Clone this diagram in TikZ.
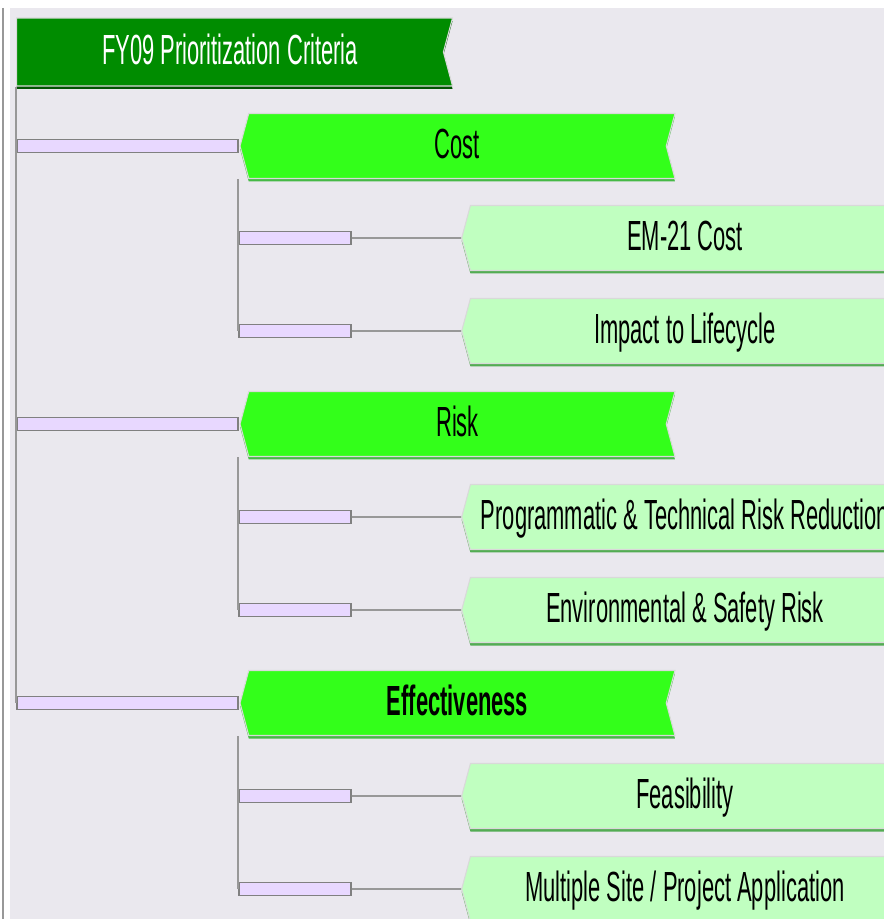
\documentclass[tikz,border=0pt]{standalone}
\usepackage{fontspec}
\newfontfamily\narrowsans[FakeStretch=0.52]{Liberation Sans}
\usetikzlibrary{shapes.symbols, shadows}
\definecolor{canvasgrey}{HTML}{EAE8EE}
\definecolor{rootgreen}{HTML}{008C00}
\definecolor{critgreen}{HTML}{33FF1A}
\definecolor{subgreen}{HTML}{C0FFC0}
\definecolor{barlilac}{HTML}{E8D8FF}
\definecolor{linkgrey}{HTML}{989898}

\begin{document}
\begin{tikzpicture}[x=0.02cm, y=-0.02cm,
		every node/.style={font=\narrowsans\fontsize{24}{28}\selectfont, inner sep=0pt},
		tab/.style={signal, signal pointer angle=150, text height=0.55cm, text depth=0.05cm, draw=white!70!gray, line width=0.6pt},
		rootbox/.style={tab, signal from=east, signal to=nowhere, fill=rootgreen, text=white, minimum width=8.72cm, minimum height=1.36cm, drop shadow={shadow xshift=0pt, shadow yshift=-0.06cm, shadow scale=1, opacity=1, fill=rootgreen!60!black}},
		critbox/.style={tab, signal from=east, signal to=west, fill=critgreen, minimum width=8.7cm, minimum height=1.3cm, drop shadow={shadow xshift=0pt, shadow yshift=-0.06cm, shadow scale=1, opacity=1, fill=green!45!gray}},
		subbox/.style={tab, signal from=nowhere, signal to=west, fill=subgreen, minimum width=8.76cm, minimum height=1.3cm, drop shadow={shadow xshift=0pt, shadow yshift=-0.06cm, shadow scale=1, opacity=1, fill=green!35!gray}},
		barbox/.style={rectangle, draw=gray, line width=0.9pt, fill=barlilac, minimum height=0.26cm},
		topbar/.style={barbox, minimum width=4.42cm},
		subbar/.style={barbox, minimum width=2.24cm},
		link/.style={linkgrey, line width=0.9pt}]
		\useasboundingbox (0,0) rectangle (884,919);
		\clip (0,0) rectangle (884,919);
		\fill[canvasgrey] (10,8) rectangle (884,919);
		\draw[linkgrey, line width=1pt] (3,8) -- (3,919);

		\node[rootbox] (crit) at (230,52) {FY09 Prioritization Criteria};

		\node[topbar] (bcost) at (127.5,146) {};
		\node[topbar] (brisk) at (127.5,424) {};
		\node[topbar] (beff) at (127.5,703) {};
		\draw[link] (beff.west |- crit.south) -- (beff.west);

		\node[critbox] (cost) at (457.5,146) {Cost};
		\node[critbox] (risk) at (457.5,424) {Risk};
		\node[critbox] (eff) at (457.5,703) {\bfseries Effectiveness};

		\node[subbar] (bemcost) at (295,238) {};
		\node[subbar] (bimpact) at (295,331) {};
		\node[subbar] (bprogrisk) at (295,517) {};
		\node[subbar] (benvrisk) at (295,610) {};
		\node[subbar] (bfeas) at (295,796) {};
		\node[subbar] (bmulti) at (295,889) {};
		\draw[link] (bemcost.west |- cost.south) -- (bimpact.west);
		\draw[link] (bprogrisk.west |- risk.south) -- (benvrisk.west);
		\draw[link] (bfeas.west |- eff.south) -- (bmulti.west);

		\node[subbox] (emcost) at (685,238) {EM-21 Cost};
		\node[subbox] (impact) at (685,331) {Impact to Lifecycle};
		\node[subbox] (progrisk) at (685,517) {Programmatic \& Technical Risk Reduction};
		\node[subbox] (envrisk) at (685,610) {Environmental \& Safety Risk};
		\node[subbox] (feas) at (685,796) {Feasibility};
		\node[subbox] (multi) at (685,889) {Multiple Site / Project Application};

		\draw[link] (bemcost) -- (emcost);
		\draw[link] (bimpact) -- (impact);
		\draw[link] (bprogrisk) -- (progrisk);
		\draw[link] (benvrisk) -- (envrisk);
		\draw[link] (bfeas) -- (feas);
		\draw[link] (bmulti) -- (multi);
	\end{tikzpicture}
\end{document}
